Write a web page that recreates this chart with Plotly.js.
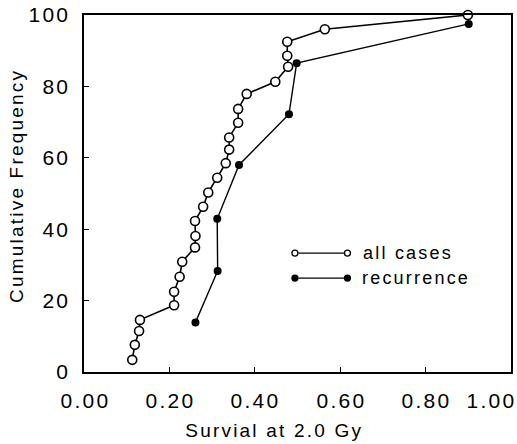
<!DOCTYPE html>
<html>
<head>
<meta charset="utf-8">
<script src="https://cdn.plot.ly/plotly-3.0.1.min.js"></script>
<style>
  html, body { margin: 0; padding: 0; background: #fff; }
  #chart { width: 517px; height: 444px; }
  .main-svg text { letter-spacing: 2.2px; }
</style>
</head>
<body>
<div id="chart"></div>
<script>
// ---- data ----
const allCasesX = [0.113, 0.119, 0.129, 0.131, 0.211, 0.211, 0.224, 0.230, 0.260, 0.261, 0.260, 0.279, 0.291, 0.312, 0.332, 0.340, 0.340, 0.361, 0.361, 0.381, 0.448, 0.478, 0.476, 0.476, 0.564, 0.899];
const allCasesY = [3.4, 7.6, 11.5, 14.6, 18.7, 22.5, 26.7, 30.9, 34.9, 38.1, 42.3, 46.3, 50.3, 54.4, 58.5, 62.3, 65.7, 69.8, 73.7, 77.9, 81.3, 85.5, 88.6, 92.5, 96.0, 100];
const recurrenceX = [0.261, 0.313, 0.312, 0.363, 0.480, 0.498, 0.901];
const recurrenceY = [13.9, 28.3, 42.9, 58.0, 72.2, 86.5, 97.5];

const xTickVals = [0, 0.2, 0.4, 0.6, 0.8, 1.0];
const xTickLabels = ["0.00", "0.20", "0.40", "0.60", "0.80", "1.00"];
const yTickVals = [0, 20, 40, 60, 80, 100];
const yTickLabels = ["0", "20", "40", "60", "80", "100"];

const seriesNames = ["all cases", "recurrence"];
const xTitle = "Survial at 2.0 Gy";
const yTitle = "Cumulative Frequency";

// ---- chart ----
const FONT = "'Liberation Sans', Arial, Helvetica, sans-serif";

const traces = [
  {
    x: allCasesX, y: allCasesY, name: seriesNames[0],
    type: "scatter", mode: "lines+markers",
    line: { color: "#000", width: 1.6 },
    marker: { symbol: "circle", size: 9, color: "#fff", line: { color: "#000", width: 1.6 } },
    cliponaxis: false
  },
  {
    x: recurrenceX, y: recurrenceY, name: seriesNames[1],
    type: "scatter", mode: "lines+markers",
    line: { color: "#000", width: 1.4 },
    marker: { symbol: "circle", size: 8, color: "#000" },
    cliponaxis: false
  }
];

// x tick labels (last one right-aligned as in the reference)
const annotations = xTickVals.map((v, i) => ({
  x: v, xref: "x", y: 0, yref: "paper",
  text: xTickLabels[i], showarrow: false,
  xanchor: i === xTickVals.length - 1 ? "right" : "center",
  xshift: i === xTickVals.length - 1 ? 3 : 1,
  yanchor: "top", yshift: -15,
  font: { family: FONT, size: 21, color: "#000" }
}));

annotations.push({
  x: 0.446, xref: "paper", y: -0.165, yref: "paper",
  text: xTitle, showarrow: false, xanchor: "center", yanchor: "middle",
  font: { family: FONT, size: 19, color: "#000" }
});
annotations.push({
  x: -0.157, xref: "paper", y: 0.524, yref: "paper",
  text: yTitle, showarrow: false, textangle: -90, xanchor: "center", yanchor: "middle",
  font: { family: FONT, size: 19, color: "#000" }
});

// custom legend (marker-line-marker)
const legendRows = [
  { y: 0.333, fill: "#fff", name: seriesNames[0] },
  { y: 0.263, fill: "#000", name: seriesNames[1] }
];
const shapes = [];
legendRows.forEach(r => {
  shapes.push({ type: "line", xref: "paper", yref: "paper", x0: 0.502, x1: 0.612, y0: r.y, y1: r.y,
    line: { color: "#000", width: 1.4 } });
  [0.494, 0.617].forEach(px => {
    shapes.push({ type: "circle", xref: "paper", yref: "paper",
      xsizemode: "pixel", ysizemode: "pixel", xanchor: px, yanchor: r.y,
      x0: -3, x1: 3, y0: -3, y1: 3,
      fillcolor: r.fill, line: { color: "#000", width: 1.3 } });
  });
  annotations.push({ x: 0.672, xref: "paper", y: r.y, yref: "paper", text: r.name,
    showarrow: false, xanchor: "left", yanchor: "middle",
    font: { family: FONT, size: 18, color: "#000" } });
});

const layout = {
  width: 517, height: 444,
  margin: { l: 84, r: 6, t: 15, b: 72 },
  paper_bgcolor: "#fff", plot_bgcolor: "#fff",
  showlegend: false,
  font: { family: FONT, size: 20, color: "#000" },
  xaxis: {
    range: [0, 1], tickvals: xTickVals, ticktext: xTickLabels, showticklabels: false,
    ticks: "inside", ticklen: 5, tickwidth: 1.2, tickcolor: "#000",
    showline: true, linecolor: "#000", linewidth: 1.6, mirror: true,
    showgrid: false, zeroline: false, fixedrange: true
  },
  yaxis: {
    range: [0, 100], tickvals: yTickVals, ticktext: yTickLabels,
    ticks: "inside", ticklen: 5, tickwidth: 1.2, tickcolor: "#000",
    ticklabelstandoff: 8,
    tickfont: { family: FONT, size: 21, color: "#000" },
    showline: true, linecolor: "#000", linewidth: 1.6, mirror: true,
    showgrid: false, zeroline: false, fixedrange: true
  },
  annotations: annotations,
  shapes: shapes
};

Plotly.newPlot("chart", traces, layout, { displayModeBar: false, staticPlot: true });
</script>
</body>
</html>
